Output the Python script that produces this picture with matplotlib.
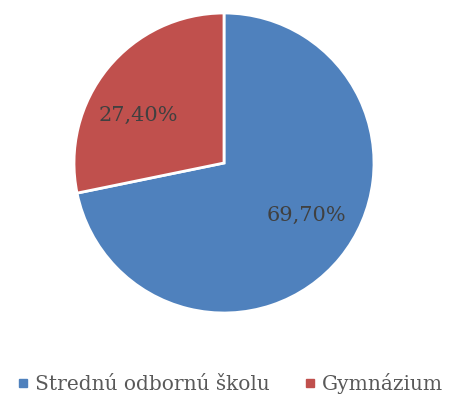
import matplotlib
matplotlib.use('Agg')
import matplotlib.pyplot as plt
from matplotlib.lines import Line2D

# data
categories = ['Strednú odbornú školu', 'Gymnázium']
values = [69.70, 27.40]
colors = ['#4F81BD', '#C0504D']
# label anchor points inside each wedge (layout only)
label_pos = [(0.55, -0.35), (-0.57, 0.32)]

plt.rcParams['font.family'] = ['DejaVu Serif']

fig = plt.figure(figsize=(4.51, 4.04), dpi=100)
ax = fig.add_axes([74 / 451, 91 / 404, 300 / 451, 300 / 404])

wedges, _ = ax.pie(values, colors=colors, startangle=90, counterclock=False,
                   wedgeprops=dict(edgecolor='white', linewidth=2))
ax.set_xlim(-1, 1)
ax.set_ylim(-1, 1)

for v, (x, y) in zip(values, label_pos):
    ax.text(x, y, '{:.2f}%'.format(v).replace('.', ','), ha='center', va='center',
            fontsize=15, color='#404040')

handles = [Line2D([], [], marker='s', linestyle='none', markersize=6,
                  markerfacecolor=c, markeredgecolor=c) for c in colors]
fig.legend(handles, categories, loc='center', bbox_to_anchor=(0.5 + 3.5 / 451, 1 - 384 / 404),
           ncol=2, frameon=False, fontsize=14.5, handletextpad=0.2, columnspacing=1.6,
           labelcolor='#595959', handlelength=0.8)

fig.savefig('out.png', dpi=100)
